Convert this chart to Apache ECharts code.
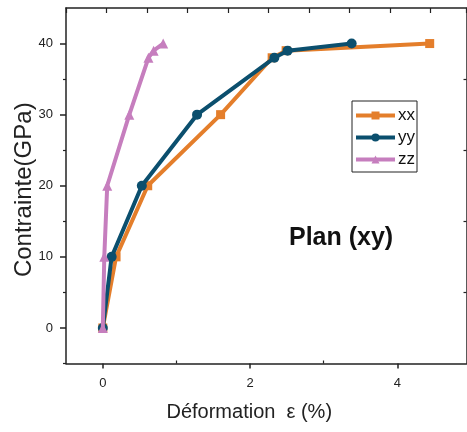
<!DOCTYPE html>
<html>
<head>
<meta charset="utf-8">
<script src="https://cdn.jsdelivr.net/npm/echarts@6/dist/echarts.min.js"></script>
<style>
html,body{margin:0;padding:0;background:#fff;}
#c{width:467px;height:432px;}
</style>
</head>
<body>
<div id="c"></div>
<script>
// ---- data (strain in %, stress in GPa) ----
const seriesNames = ['xx', 'yy', 'zz'];
const xxStrain = [0, 0.18, 0.61, 1.60, 2.30, 2.49, 4.44];
const xxStress = [0, 10, 20, 30, 38, 39, 40];
const yyStrain = [0, 0.12, 0.53, 1.28, 2.33, 2.51, 3.38];
const yyStress = [0, 10, 20, 30, 38, 39, 40];
const zzStrain = [0, 0.02, 0.06, 0.36, 0.62, 0.69, 0.82];
const zzStress = [0, 10, 20, 30, 38, 39, 40];
const xTickLabels = [0, 2, 4];
const xMinorTicks = [1, 3];
const yTickLabels = [0, 10, 20, 30, 40];
const yMinorTicks = [-5, 5, 15, 25, 35];
const yRightTicks = [5, 15, 25, 35];

function pairs(xs, ys) { return xs.map((x, i) => [x, ys[i]]); }

const FONT = 'Liberation Sans, Arial, sans-serif';
const AX = '#222';
const colors = ['#E47E2B', '#0B4F6E', '#C67EBE'];

const chart = echarts.init(document.getElementById('c'), null, {renderer: 'canvas'});
const option = {
  animation: false,
  backgroundColor: '#fff',
  grid: {left: 66, top: 8, width: 400.5, height: 355.5, containLabel: false, outerBoundsMode: 'none'},
  xAxis: [
    { // main bottom axis
      type: 'value', position: 'bottom', min: -0.5, max: 4.94,
      name: 'Déformation  ε (%)', nameLocation: 'middle', nameGap: 39, nameMoveOverlap: false,
      nameTextStyle: {fontFamily: FONT, fontSize: 20, color: AX, padding: [0, 34, 0, 0]},
      axisLine: {show: true, onZero: false, lineStyle: {color: AX, width: 1.5}},
      axisTick: {show: true, inside: false, length: 5, customValues: xTickLabels, lineStyle: {color: AX, width: 1.5}},
      axisLabel: {show: true, margin: 13, customValues: xTickLabels, fontFamily: FONT, fontSize: 13, color: AX},
      splitLine: {show: false}
    },
    { // minor inward ticks on bottom
      type: 'value', position: 'bottom', min: -0.5, max: 4.94,
      axisLine: {show: false, onZero: false},
      axisTick: {show: true, inside: true, length: 3, customValues: xMinorTicks, lineStyle: {color: AX, width: 1.2}},
      axisLabel: {show: false}, splitLine: {show: false}
    },
    { // top frame axis
      type: 'value', position: 'top', min: 0, max: 9.889, interval: 1,
      axisLine: {show: true, onZero: false, lineStyle: {color: AX, width: 1.5}},
      axisTick: {show: true, inside: true, length: 5, lineStyle: {color: AX, width: 1.2}},
      axisLabel: {show: false}, splitLine: {show: false}
    }
  ],
  yAxis: [
    { // main left axis
      type: 'value', position: 'left', min: -5, max: 45,
      name: 'Contrainte(GPa)', nameLocation: 'middle', nameGap: 30, nameMoveOverlap: false,
      nameTextStyle: {fontFamily: FONT, fontSize: 24, color: AX, padding: [0, 8, 0, 0]},
      axisLine: {show: true, onZero: false, lineStyle: {color: AX, width: 1.5}},
      axisTick: {show: true, inside: false, length: 6, customValues: yTickLabels, lineStyle: {color: AX, width: 1.5}},
      axisLabel: {show: true, margin: 13, customValues: yTickLabels, fontFamily: FONT, fontSize: 13, color: AX},
      splitLine: {show: false}
    },
    { // minor left ticks
      type: 'value', position: 'left', min: -5, max: 45,
      axisLine: {show: false, onZero: false},
      axisTick: {show: true, inside: false, length: 3, customValues: yMinorTicks, lineStyle: {color: AX, width: 1.2}},
      axisLabel: {show: false}, splitLine: {show: false}
    },
    { // right frame axis
      type: 'value', position: 'right', min: -5, max: 45,
      axisLine: {show: true, onZero: false, lineStyle: {color: AX, width: 1.5}},
      axisTick: {show: true, inside: true, length: 3, customValues: yRightTicks, lineStyle: {color: AX, width: 1.2}},
      axisLabel: {show: false}, splitLine: {show: false}
    }
  ],
  legend: {
    orient: 'vertical', left: 352, top: 101,
    padding: [6, 2, 4, 2], itemGap: 5, itemWidth: 39, itemHeight: 10,
    borderColor: '#222', borderWidth: 1, backgroundColor: '#fff',
    lineStyle: {width: 4},
    textStyle: {fontFamily: FONT, fontSize: 17, lineHeight: 14, color: '#111', padding: [0, 0, 0, -2]},
    data: seriesNames
  },
  graphic: [{
    type: 'text', left: 289, top: 226,
    style: {text: 'Plan (xy)', font: 'bold 25px ' + FONT, fill: '#111'}
  }],
  series: [
    {name: seriesNames[0], type: 'line', data: pairs(xxStrain, xxStress), color: colors[0],
     symbol: 'rect', symbolSize: 9, lineStyle: {width: 4}, itemStyle: {color: colors[0]}, z: 3},
    {name: seriesNames[1], type: 'line', data: pairs(yyStrain, yyStress), color: colors[1],
     symbol: 'circle', symbolSize: 10, lineStyle: {width: 4}, itemStyle: {color: colors[1]}, z: 4},
    {name: seriesNames[2], type: 'line', data: pairs(zzStrain, zzStress), color: colors[2],
     symbol: 'triangle', symbolSize: 10, lineStyle: {width: 4}, itemStyle: {color: colors[2]}, z: 5}
  ]
};
chart.setOption(option);
</script>
</body>
</html>
